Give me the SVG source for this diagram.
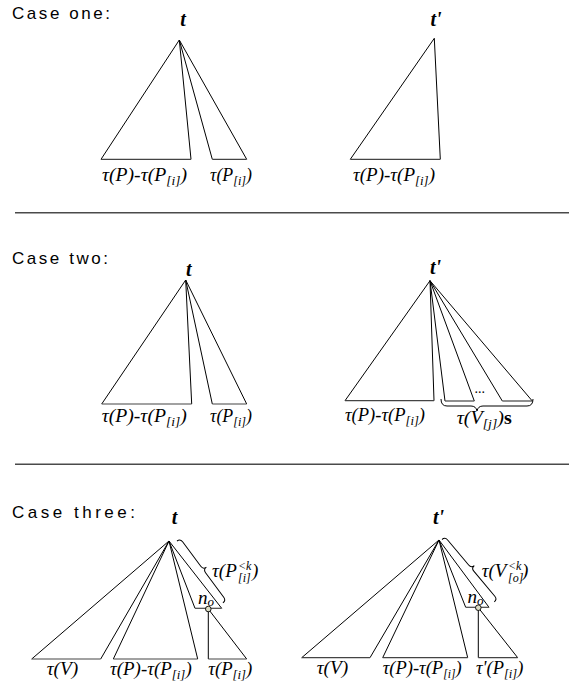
<svg xmlns="http://www.w3.org/2000/svg" width="569" height="683" viewBox="0 0 569 683">
<style>
.bg{fill:#ffffff}
.tri{fill:none;stroke:#000;stroke-width:1;stroke-linejoin:miter}
.base{fill:none;stroke:#444;stroke-width:1.2}
.sep{stroke:#4a4a4a;stroke-width:1.4}
.brace{fill:none;stroke:#000;stroke-width:1}
.node{fill:#dcdec6;stroke:#000;stroke-width:0.9}
.case{font-family:"Liberation Sans","DejaVu Sans",sans-serif;font-size:17px;fill:#000}
.root{font-family:"Liberation Serif","Times New Roman",serif;font-style:italic;font-weight:bold;font-size:20px;fill:#000}
.m{font-family:"Liberation Serif","Times New Roman",serif;font-style:italic;font-size:19px;fill:#000}
.s{font-size:13px}
.ss{font-family:"Liberation Serif","Times New Roman",serif;font-style:italic;font-size:12px;fill:#000}
.dots{font-family:"Liberation Serif",serif;font-size:14px;fill:#000}
</style>
<rect class="bg" x="0" y="0" width="569" height="683"/>

<!-- separators -->
<line class="sep" x1="15" y1="212.7" x2="569" y2="212.7"/>
<line class="sep" x1="15" y1="464.3" x2="569" y2="464.3"/>

<!-- headings -->
<text class="case" x="12" y="19" textLength="98">Case one:</text>
<text class="case" x="12" y="264" textLength="96">Case two:</text>
<text class="case" x="12" y="518" textLength="123">Case three:</text>

<!-- ===== Case one ===== -->
<g id="c1-left">
  <text class="root" x="183" y="26" text-anchor="middle">t</text>
  <g id="c1l-rest">
    <path class="tri" d="M179.3,40 L101,159.3 M191,159.3 L179.3,40"/>
    <line class="base" x1="101" y1="159.3" x2="191" y2="159.3"/>
    <text class="m" x="102" y="181" textLength="85" lengthAdjust="spacingAndGlyphs">τ(P)-τ(P<tspan class="s" dy="4">[i]</tspan><tspan dy="-4">)</tspan></text>
  </g>
  <g id="c1l-pi">
    <path class="tri" d="M179.3,40 L212.3,159.3 M246.7,159.3 L179.3,40"/>
    <line class="base" x1="212.3" y1="159.3" x2="246.7" y2="159.3"/>
    <text class="m" x="210" y="181" textLength="42" lengthAdjust="spacingAndGlyphs">τ(P<tspan class="s" dy="4">[i]</tspan><tspan dy="-4">)</tspan></text>
  </g>
</g>

<g id="c1-right">
  <text class="root" x="436" y="26" text-anchor="middle">t'</text>
  <g id="c1r-rest">
    <path class="tri" d="M434.3,38.3 L350.3,159.3 M440.3,159.3 L434.3,38.3"/>
    <line class="base" x1="350.3" y1="159.3" x2="440.3" y2="159.3"/>
    <text class="m" x="353" y="181" textLength="82" lengthAdjust="spacingAndGlyphs">τ(P)-τ(P<tspan class="s" dy="4">[i]</tspan><tspan dy="-4">)</tspan></text>
  </g>
</g>

<!-- ===== Case two ===== -->
<g id="c2-left">
  <text class="root" x="188.7" y="275.7" text-anchor="middle">t</text>
  <g id="c2l-rest">
    <path class="tri" d="M185.7,280 L101.7,404 M191.7,404 L185.7,280"/>
    <line class="base" x1="101.7" y1="404" x2="191.7" y2="404"/>
    <text class="m" x="101.7" y="421.5" textLength="85" lengthAdjust="spacingAndGlyphs">τ(P)-τ(P<tspan class="s" dy="4">[i]</tspan><tspan dy="-4">)</tspan></text>
  </g>
  <g id="c2l-pi">
    <path class="tri" d="M185.7,280 L212.3,404 M246.7,404 L185.7,280"/>
    <line class="base" x1="212.3" y1="404" x2="246.7" y2="404"/>
    <text class="m" x="210" y="421.5" textLength="42" lengthAdjust="spacingAndGlyphs">τ(P<tspan class="s" dy="4">[i]</tspan><tspan dy="-4">)</tspan></text>
  </g>
</g>

<g id="c2-right">
  <text class="root" x="435.5" y="273.5" text-anchor="middle">t'</text>
  <g id="c2r-rest">
    <path class="tri" d="M430,280.7 L345,400.7 M434,400.7 L430,280.7"/>
    <line class="base" x1="345" y1="400.7" x2="434" y2="400.7"/>
    <text class="m" x="345" y="421" textLength="80" lengthAdjust="spacingAndGlyphs">τ(P)-τ(P<tspan class="s" dy="4">[i]</tspan><tspan dy="-4">)</tspan></text>
  </g>
  <g id="c2r-v1">
    <path class="tri" d="M430,280.7 L445,401 M474.3,401 L430,280.7"/>
    <line class="base" x1="445" y1="401" x2="474.3" y2="401"/>
  </g>
  <g id="c2r-v2">
    <path class="tri" d="M430,280.7 L502.3,401 M532.3,401 L430,280.7"/>
    <line class="base" x1="502.3" y1="401" x2="532.3" y2="401"/>
  </g>
  <text class="dots" x="474.5" y="393">...</text>
  <path class="brace" d="M441,399 Q441,406 447,406 L471,406 Q476,406 477,411 Q478,406 483,406 L527,406 Q533,406 533,399"/>
  <text class="m" x="456.7" y="424" textLength="55" lengthAdjust="spacingAndGlyphs">τ(V<tspan class="s" dy="4">[j]</tspan><tspan dy="-4">)</tspan><tspan font-style="normal" font-weight="bold">s</tspan></text>
</g>

<!-- ===== Case three ===== -->
<g id="c3-left">
  <text class="root" x="174.5" y="523.5" text-anchor="middle">t</text>
  <g id="c3l-v">
    <path class="tri" d="M169,541 L31.7,659 M100.7,659 L169,541"/>
    <line class="base" x1="31.7" y1="659" x2="100.7" y2="659"/>
    <text class="m" x="46.7" y="674.5" textLength="31.6" lengthAdjust="spacingAndGlyphs">τ(V)</text>
  </g>
  <g id="c3l-rest">
    <path class="tri" d="M169,541 L113.3,659 M197.7,659 L169,541"/>
    <line class="base" x1="113.3" y1="659" x2="197.7" y2="659"/>
    <text class="m" x="110" y="674.5" textLength="81.7" lengthAdjust="spacingAndGlyphs">τ(P)-τ(P<tspan class="s" dy="4">[i]</tspan><tspan dy="-4">)</tspan></text>
  </g>
  <g id="c3l-top">
    <path class="tri" d="M169,541 L195,608.3 M221.7,608.3 L169,541"/>
    <line class="base" x1="195" y1="608.3" x2="221.7" y2="608.3"/>
    <text class="m" x="198" y="604" font-size="16">n<tspan class="s" font-size="12" dy="2">o</tspan></text>
  </g>
  <g id="c3l-pi">
    <path class="tri" d="M208.3,609 L208.3,659 M246.7,659 L208.3,609"/>
    <line class="base" x1="208.3" y1="659" x2="246.7" y2="659"/>
    <text class="m" x="208.3" y="674.5" textLength="44" lengthAdjust="spacingAndGlyphs">τ(P<tspan class="s" dy="4">[i]</tspan><tspan dy="-4">)</tspan></text>
  </g>
  <circle class="node" cx="208.3" cy="609" r="2.8"/>
  <g transform="translate(177,541) rotate(53.4)">
    <path class="brace" d="M0,0 Q0,-4 4,-4 L34.5,-4 Q38.5,-4 38.5,-8 Q38.5,-4 42.5,-4 L73,-4 Q77,-4 77,0"/>
  </g>
  <text class="m" x="212" y="576.7">τ(P</text>
  <text class="ss" x="238" y="569.5">&lt;k</text>
  <text class="ss" x="238" y="582">[i]</text>
  <text class="m" x="252" y="576.7">)</text>
</g>

<g id="c3-right">
  <text class="root" x="438.5" y="523.5" text-anchor="middle">t'</text>
  <g id="c3r-v">
    <path class="tri" d="M439,540 L301.7,657.7 M370,657.7 L439,540"/>
    <line class="base" x1="301.7" y1="657.7" x2="370" y2="657.7"/>
    <text class="m" x="316.7" y="673.5" textLength="31.6" lengthAdjust="spacingAndGlyphs">τ(V)</text>
  </g>
  <g id="c3r-rest">
    <path class="tri" d="M439,540 L382.7,657.7 M467.7,657.7 L439,540"/>
    <line class="base" x1="382.7" y1="657.7" x2="467.7" y2="657.7"/>
    <text class="m" x="382.7" y="673.5" font-size="18" textLength="79" lengthAdjust="spacingAndGlyphs">τ(P)-τ(P<tspan font-size="12" dy="4">[i]</tspan><tspan dy="-4">)</tspan></text>
  </g>
  <g id="c3r-top">
    <path class="tri" d="M439,540 L465.7,607.3 M489,607.3 L439,540"/>
    <line class="base" x1="465.7" y1="607.3" x2="489" y2="607.3"/>
    <text class="m" x="467.5" y="602.7" font-size="16">n<tspan class="s" font-size="12" dy="2">o</tspan></text>
  </g>
  <g id="c3r-pi">
    <path class="tri" d="M478.3,607.7 L478.3,657.7 M517.7,657.7 L478.3,607.7"/>
    <line class="base" x1="478.3" y1="657.7" x2="517.7" y2="657.7"/>
    <text class="m" x="476" y="673.5" textLength="47.3" lengthAdjust="spacingAndGlyphs">τ'(P<tspan class="s" dy="4">[i]</tspan><tspan dy="-4">)</tspan></text>
  </g>
  <circle class="node" cx="478.3" cy="607.7" r="2.8"/>
  <g transform="translate(442,539.5) rotate(50)">
    <path class="brace" d="M0,0 Q0,-4 4,-4 L36.7,-4 Q40.7,-4 40.7,-8 Q40.7,-4 44.7,-4 L77.4,-4 Q81.4,-4 81.4,0"/>
  </g>
  <text class="m" x="481.7" y="576.7">τ(V</text>
  <text class="ss" x="508" y="569.5">&lt;k</text>
  <text class="ss" x="508" y="582">[o]</text>
  <text class="m" x="522" y="576.7">)</text>
</g>
</svg>
